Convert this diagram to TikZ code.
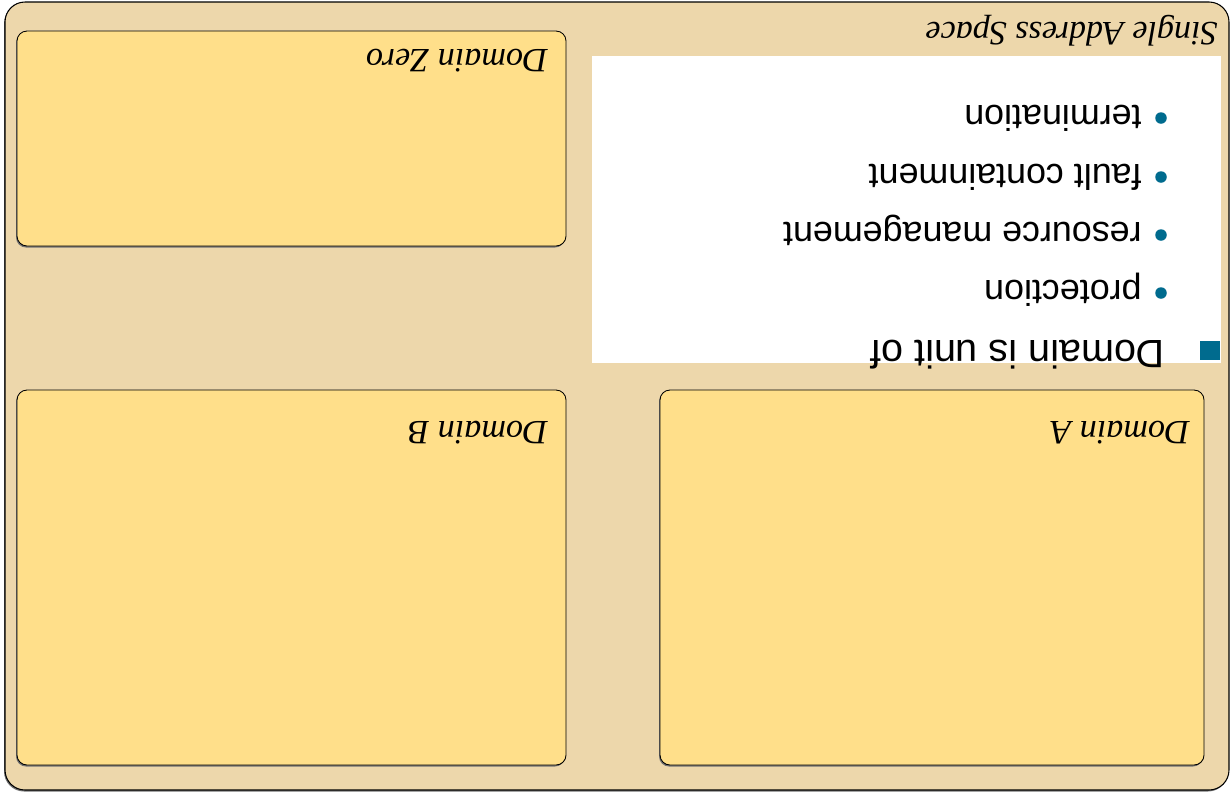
\documentclass[tikz,border=0pt]{standalone}
\usepackage{fontspec}
\setmainfont{Liberation Serif}
\setsansfont{Liberation Sans}
\usepackage{tikz}
\usepackage{xcolor}
\definecolor{spacetan}{HTML}{EDD7AB}
\definecolor{domyellow}{HTML}{FFDF8A}
\definecolor{bulletblue}{HTML}{006B8E}

\begin{document}
\begin{tikzpicture}[x=0.02cm,y=-0.02cm,line cap=round,
  outerbox/.style={draw=black,fill=spacetan,rounded corners=0.4cm,line width=0.6pt},
  dombox/.style={draw=black,fill=domyellow,rounded corners=0.2cm,line width=0.5pt},
  shadowbox/.style={fill=black!55,rounded corners=0.2cm},
  domlabel/.style={font=\itshape\fontsize{19.4}{22}\selectfont,rotate=180,anchor=base west,inner sep=0pt},
  mainitem/.style={font=\sffamily\fontsize{22.5}{26}\selectfont,rotate=180,anchor=base west,inner sep=0pt},
  subitem/.style={font=\sffamily\fontsize{20.4}{24}\selectfont,rotate=180,anchor=base west,inner sep=0pt}]
\useasboundingbox (0,0) rectangle (1231,792);
% address space
\fill[black!55,rounded corners=0.4cm] (4,3.5) rectangle (1228,791.5);
\draw[outerbox] (5,2) rectangle (1229,790);
\node[domlabel] (space) at (1218,22) {Single Address Space};
% domains
\fill[shadowbox] (16,32.5) rectangle (565,247.5);
\draw[dombox] (17,31) rectangle (566,246);
\node[domlabel] (zero) at (548,49) {Domain Zero};
\fill[shadowbox] (16,391.5) rectangle (565,766.5);
\draw[dombox] (17,390) rectangle (566,765);
\node[domlabel] (domb) at (548,421) {Domain B};
\fill[shadowbox] (659,391.5) rectangle (1203,766.5);
\draw[dombox] (660,390) rectangle (1204,765);
\node[domlabel] (doma) at (1190,421) {Domain A};
% bullet list
\fill[white] (592,56) rectangle (1221,363);
\fill[bulletblue] (1200,341) rectangle (1220,360);
\node[mainitem] (unit) at (1165,340) {Domain is unit of};
\foreach \txt/\yy [count=\i] in {termination/105,fault containment/164,resource management/222,protection/280}{
  \fill[bulletblue] (1161,\yy+13) circle (0.115cm);
  \node[subitem] (item\i) at (1142,\yy) {\txt};
}
\end{tikzpicture}
\end{document}
